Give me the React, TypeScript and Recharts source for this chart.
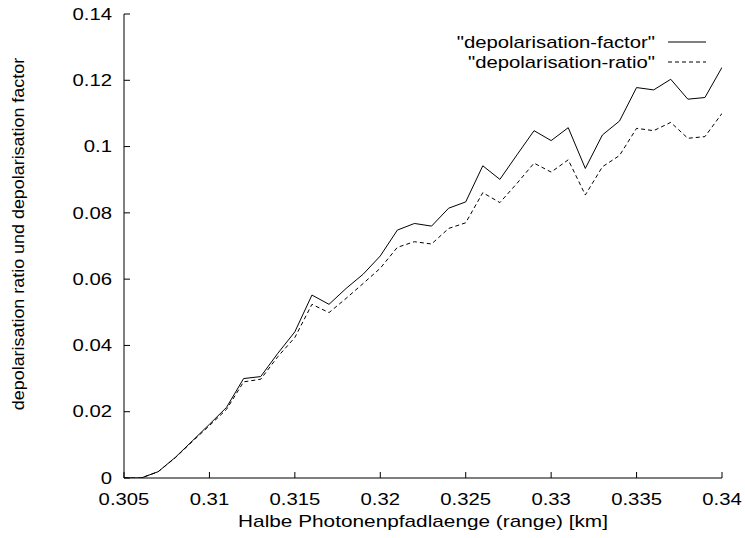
import React from 'react';
import { LineChart, Line, XAxis, YAxis } from 'recharts';

const rangeKm = [
  0.305, 0.306, 0.307, 0.308, 0.309, 0.31, 0.311, 0.312, 0.313, 0.314, 0.315, 0.316,
  0.317, 0.318, 0.319, 0.32, 0.321, 0.322, 0.323, 0.324, 0.325, 0.326, 0.327, 0.328,
  0.329, 0.33, 0.331, 0.332, 0.333, 0.334, 0.335, 0.336, 0.337, 0.338, 0.339, 0.34,
];

const depolFactor = [
  0, 0, 0.0019, 0.0062, 0.0112, 0.0162, 0.0213, 0.03, 0.0306, 0.0376, 0.0441, 0.0552,
  0.0524, 0.0572, 0.0615, 0.067, 0.0748, 0.0768, 0.076, 0.0814, 0.0833, 0.0942, 0.0901, 0.0975,
  0.1048, 0.1018, 0.1057, 0.0934, 0.1035, 0.1077, 0.1178, 0.1171, 0.1203, 0.1143, 0.1148, 0.1239,
];

const depolRatio = [
  0, 0, 0.0019, 0.0061, 0.011, 0.0158, 0.0207, 0.029, 0.0298, 0.0366, 0.0424, 0.0524,
  0.0499, 0.0542, 0.0587, 0.0633, 0.0696, 0.0713, 0.0706, 0.0753, 0.077, 0.0861, 0.0831, 0.0889,
  0.095, 0.0923, 0.096, 0.0854, 0.0939, 0.0973, 0.1055, 0.1048, 0.1073, 0.1025, 0.103, 0.11,
];

const xTicks = [0.305, 0.31, 0.315, 0.32, 0.325, 0.33, 0.335, 0.34];
const xTickLabels = ['0.305', '0.31', '0.315', '0.32', '0.325', '0.33', '0.335', '0.34'];
const yTicks = [0, 0.02, 0.04, 0.06, 0.08, 0.1, 0.12, 0.14];
const yTickLabels = ['0', '0.02', '0.04', '0.06', '0.08', '0.1', '0.12', '0.14'];

const seriesNames = ['"depolarisation-factor"', '"depolarisation-ratio"'];
const xTitle = 'Halbe Photonenpfadlaenge (range) [km]';
const yTitle = 'depolarisation ratio und depolarisation factor';

const data = rangeKm.map((r, i) => ({ r, factor: depolFactor[i], ratio: depolRatio[i] }));

const FONT = '"Liberation Sans", Arial, Helvetica, sans-serif';
const FS = 16;
const SX = 1.27;
const TICK = 6;

const SText = (props: any) => {
  const { x, y, anchor, sx = SX, rotate = 0, children } = props;
  return (
    <text
      transform={`translate(${x} ${y}) rotate(${rotate}) scale(${sx} 1)`}
      x={0}
      y={0}
      textAnchor={anchor}
      dominantBaseline="central"
      fontFamily={FONT}
      fontSize={FS}
      fill="#000"
    >
      {children}
    </text>
  );
};

const BottomTick = (props: any) => {
  const { x, y, payload } = props;
  return (
    <g>
      <line x1={x} y1={y} x2={x} y2={y - TICK} stroke="#000" />
      <SText x={x} y={y + 21} anchor="middle">
        {xTickLabels[xTicks.indexOf(payload.value)] ?? String(payload.value)}
      </SText>
    </g>
  );
};

const TopTick = (props: any) => {
  const { x, y } = props;
  return <line x1={x} y1={y} x2={x} y2={y + TICK} stroke="#000" />;
};

const LeftTick = (props: any) => {
  const { x, y, payload } = props;
  return (
    <g>
      <line x1={x} y1={y} x2={x + TICK} y2={y} stroke="#000" />
      <SText x={x - 12} y={y} anchor="end">
        {yTickLabels[yTicks.indexOf(payload.value)] ?? String(payload.value)}
      </SText>
    </g>
  );
};

const RightTick = (props: any) => {
  const { x, y } = props;
  return <line x1={x} y1={y} x2={x - TICK} y2={y} stroke="#000" />;
};

const XTitle = (props: any) => {
  const vb = props.viewBox;
  return (
    <SText x={vb.x + vb.width / 2} y={vb.y + 43} anchor="middle" sx={1.3}>
      {xTitle}
    </SText>
  );
};

const YTitle = (props: any) => {
  const vb = props.viewBox;
  return (
    <SText x={vb.x + 19} y={vb.y + vb.height / 2 - 12} anchor="middle" rotate={-90} sx={1.12}>
      {yTitle}
    </SText>
  );
};

const dashes = ['', '4 3'];

export default function App() {
  return (
    <div style={{ position: 'absolute', left: 0, top: 0, width: 745, height: 538, background: '#fff' }}>
      <LineChart width={745} height={538} data={data} margin={{ top: 14, right: 23, left: 0, bottom: 0 }}>
        <XAxis
          xAxisId="b"
          dataKey="r"
          type="number"
          domain={[0.305, 0.34]}
          ticks={xTicks}
          interval={0}
          height={60}
          tickSize={0}
          tickMargin={0}
          tickLine={false}
          axisLine={{ stroke: '#000' }}
          tick={<BottomTick />}
          label={<XTitle />}
          allowDataOverflow
        />
        <XAxis
          xAxisId="t"
          orientation="top"
          dataKey="r"
          type="number"
          domain={[0.305, 0.34]}
          ticks={xTicks}
          interval={0}
          height={0}
          tickSize={0}
          tickMargin={0}
          tickLine={false}
          axisLine={{ stroke: '#000' }}
          tick={<TopTick />}
          allowDataOverflow
        />
        <YAxis
          yAxisId="l"
          type="number"
          domain={[0, 0.14]}
          ticks={yTicks}
          interval={0}
          width={124}
          tickSize={0}
          tickMargin={0}
          tickLine={false}
          axisLine={{ stroke: '#000' }}
          tick={<LeftTick />}
          label={<YTitle />}
          allowDataOverflow
        />
        <YAxis
          yAxisId="r"
          orientation="right"
          type="number"
          domain={[0, 0.14]}
          ticks={yTicks}
          interval={0}
          width={0}
          tickSize={0}
          tickMargin={0}
          tickLine={false}
          axisLine={{ stroke: '#000' }}
          tick={<RightTick />}
          allowDataOverflow
        />
        <Line
          xAxisId="b"
          yAxisId="l"
          type="linear"
          dataKey="factor"
          name={seriesNames[0]}
          stroke="#000"
          strokeWidth={1}
          dot={false}
          isAnimationActive={false}
        />
        <Line
          xAxisId="b"
          yAxisId="l"
          type="linear"
          dataKey="ratio"
          name={seriesNames[1]}
          stroke="#000"
          strokeWidth={1}
          strokeDasharray={dashes[1]}
          dot={false}
          isAnimationActive={false}
        />
      </LineChart>
      <svg width={745} height={538} style={{ position: 'absolute', left: 0, top: 0, pointerEvents: 'none' }}>
        {seriesNames.map((n, i) => (
          <g key={n}>
            <SText x={655} y={42 + i * 20} anchor="end">{n}</SText>
            <line x1={668} y1={42 + i * 20} x2={706} y2={42 + i * 20} stroke="#000" strokeWidth={1} strokeDasharray={dashes[i] || undefined} />
          </g>
        ))}
      </svg>
    </div>
  );
}
